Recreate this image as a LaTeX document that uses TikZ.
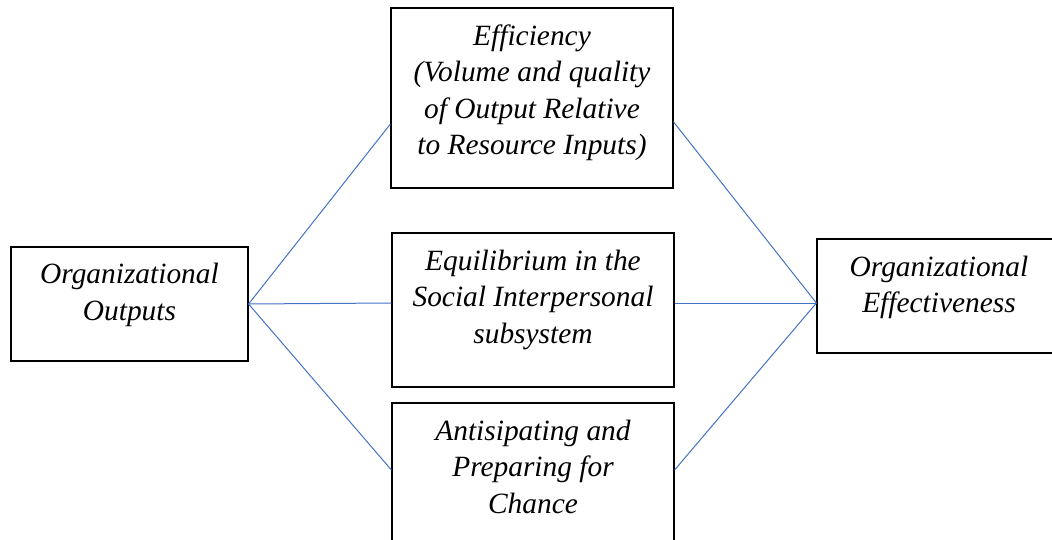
\documentclass[tikz,border=0pt]{standalone}
\usepackage{fontspec}
\setmainfont{Liberation Serif}
\usetikzlibrary{positioning}
\definecolor{linkblue}{RGB}{68,114,196}
\tikzset{
  blk/.style={draw,line width=1.2pt,inner sep=0pt},
  txt/.style={font=\fontsize{29.4}{36.5}\selectfont\itshape,align=center,inner sep=0pt},
  link/.style={linkblue,line width=1pt}
}

\begin{document}
\begin{tikzpicture}[x=1pt,y=-1pt]
\useasboundingbox (0,0) rectangle (1052,540);
% boxes
\node[blk,minimum width=237pt,minimum height=114pt] (out) at (129.5,304) {};
\node[blk,minimum width=282pt,minimum height=180pt] (eff) at (532,98) {};
\node[blk,minimum width=282pt,minimum height=154pt] (equ) at (533,310) {};
\node[blk,minimum width=282pt,minimum height=142pt] (ant) at (533,474) {};
\node[blk,minimum width=244pt,minimum height=114pt] (orgEff) at (939,296) {};
% texts, hung from the top of each box
\node[txt,below=17pt of out.north] (outTxt) {Organizational\\Outputs};
\node[txt,below=17pt of eff.north] (effTxt) {Efficiency\\(Volume and quality\\of Output Relative\\to Resource Inputs)};
\node[txt,below=17pt of equ.north] (equTxt) {Equilibrium in the\\Social Interpersonal\\subsystem};
\node[txt,below=17pt of ant.north] (antTxt) {Antisipating and\\Preparing for\\Chance};
\node[txt,below=17pt of orgEff.north] (orgEffTxt) {Organizational\\Effectiveness};
% connectors
\coordinate (hubR) at ([yshift=-7pt]orgEff.west);
\draw[link] (out.east) -- ([yshift=-26pt]eff.west);
\draw[link] (out.east) -- ([yshift=7pt]equ.west);
\draw[link] (out.east) -- ([yshift=4pt]ant.west);
\draw[link] (hubR) -- ([yshift=-24pt]eff.east);
\draw[link] (hubR) -- ([yshift=7pt]equ.east);
\draw[link] (hubR) -- ([yshift=4pt]ant.east);
\end{tikzpicture}
\end{document}
